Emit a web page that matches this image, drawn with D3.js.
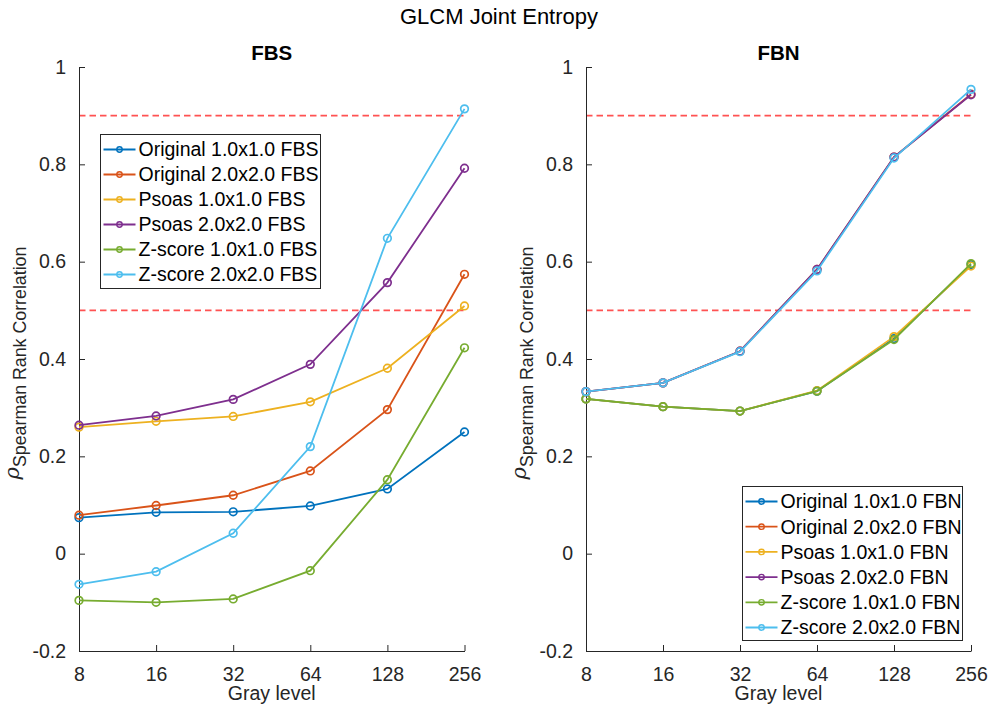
<!DOCTYPE html>
<html>
<head>
<meta charset="utf-8">
<script src="https://cdn.jsdelivr.net/npm/d3@7"></script>
<style>
  html, body { margin: 0; padding: 0; background: #fff; }
  svg { display: block; font-family: "Liberation Sans", Arial, Helvetica, sans-serif; }
</style>
</head>
<body>
<svg id="chart" width="990" height="706"></svg>
<script>
// Gray levels on the x axis (log2 spaced)
const grayLevels = [8, 16, 32, 64, 128, 256];
const yTicks = [-0.2, 0, 0.2, 0.4, 0.6, 0.8, 1];
const yTickLabels = ["-0.2", "0", "0.2", "0.4", "0.6", "0.8", "1"];
const thresholds = [0.9, 0.5];

const seriesNames = ["Original 1.0x1.0", "Original 2.0x2.0", "Psoas 1.0x1.0",
                     "Psoas 2.0x2.0", "Z-score 1.0x1.0", "Z-score 2.0x2.0"];
const seriesColors = ["#0072BD", "#D95319", "#EDB120", "#7E2F8E", "#77AC30", "#4DBEEE"];

// Spearman rank correlation, fixed bin size
const fbsValues = [
  [0.074, 0.085, 0.086, 0.098, 0.133, 0.250],
  [0.079, 0.099, 0.120, 0.170, 0.296, 0.574],
  [0.260, 0.272, 0.282, 0.312, 0.381, 0.509],
  [0.264, 0.283, 0.317, 0.389, 0.557, 0.792],
  [-0.096, -0.100, -0.093, -0.035, 0.152, 0.423],
  [-0.063, -0.037, 0.042, 0.220, 0.648, 0.914]
];

// Spearman rank correlation, fixed bin number
const fbnValues = [
  [0.318, 0.302, 0.293, 0.334, 0.442, 0.594],
  [0.333, 0.351, 0.416, 0.584, 0.815, 0.944],
  [0.318, 0.302, 0.293, 0.335, 0.446, 0.591],
  [0.333, 0.351, 0.416, 0.584, 0.815, 0.943],
  [0.318, 0.302, 0.293, 0.334, 0.440, 0.596],
  [0.333, 0.351, 0.415, 0.581, 0.813, 0.954]
];

const svg = d3.select("#chart");
const axisColor = "#262626";

svg.append("text")
  .attr("x", 499).attr("y", 24)
  .attr("text-anchor", "middle")
  .attr("font-size", 22).attr("fill", "#000")
  .text("GLCM Joint Entropy");

function drawPanel(opts) {
  const { left, right, top, bottom, title, values, suffix, legend } = opts;
  const x = d3.scaleLog().base(2).domain([8, 256]).range([left, right]);
  const y = d3.scaleLinear().domain([-0.2, 1]).range([bottom, top]);
  const g = svg.append("g");

  // threshold lines
  thresholds.forEach(t => {
    g.append("line")
      .attr("x1", x(8)).attr("x2", x(256))
      .attr("y1", y(t)).attr("y2", y(t))
      .attr("stroke", "#FF5252").attr("stroke-width", 1.8)
      .attr("stroke-dasharray", "6.5,4");
  });

  // axes: inward ticks, no box
  const xAxis = d3.axisBottom(x).tickValues(grayLevels)
    .tickFormat(d3.format("d")).tickSizeInner(-6).tickSizeOuter(0).tickPadding(13);
  const yAxis = d3.axisLeft(y).tickValues(yTicks)
    .tickFormat((d, i) => yTickLabels[i]).tickSizeInner(-6).tickSizeOuter(0).tickPadding(13);

  const gx = g.append("g").attr("transform", `translate(0,${bottom})`).call(xAxis);
  const gy = g.append("g").attr("transform", `translate(${left},0)`).call(yAxis);
  [gx, gy].forEach(a => {
    a.select(".domain").attr("stroke", axisColor).attr("stroke-width", 1);
    a.selectAll(".tick line").attr("stroke", axisColor).attr("stroke-width", 1);
    a.selectAll(".tick text").attr("fill", axisColor).attr("font-size", 19.5)
      .attr("font-family", "Liberation Sans, Arial, sans-serif");
  });
  gx.selectAll(".tick text").attr("dy", "0.85em");

  // series
  const line = d3.line().x((d, i) => x(grayLevels[i])).y(d => y(d));
  values.forEach((vals, si) => {
    g.append("path").datum(vals)
      .attr("d", line).attr("fill", "none")
      .attr("stroke", seriesColors[si]).attr("stroke-width", 1.8);
    g.selectAll(null).data(vals).enter().append("circle")
      .attr("cx", (d, i) => x(grayLevels[i])).attr("cy", d => y(d))
      .attr("r", 3.8).attr("fill", "none")
      .attr("stroke", seriesColors[si]).attr("stroke-width", 1.7);
  });

  // subplot title
  g.append("text")
    .attr("x", (left + right) / 2).attr("y", 60)
    .attr("text-anchor", "middle").attr("font-weight", "bold")
    .attr("font-size", 20.5).attr("fill", "#000")
    .text(title);

  // x label
  g.append("text")
    .attr("x", (left + right) / 2).attr("y", 700)
    .attr("text-anchor", "middle").attr("font-size", 19.5).attr("fill", axisColor)
    .text("Gray level");

  // y label with subscript
  const yl = g.append("text")
    .attr("transform", `translate(${left - 60},${(top + bottom) / 2 + 4}) rotate(-90)`)
    .attr("text-anchor", "middle").attr("fill", axisColor);
  yl.append("tspan").attr("font-style", "italic").attr("font-size", 21)
    .attr("font-family", "DejaVu Serif, serif").text("ρ");
  yl.append("tspan").attr("font-size", 17.8).attr("dy", 7).text("Spearman Rank Correlation");

  // legend
  const lg = g.append("g").attr("transform", `translate(${legend.x},${legend.y})`);
  lg.append("rect")
    .attr("width", legend.w).attr("height", legend.h)
    .attr("fill", "#fff").attr("stroke", axisColor).attr("stroke-width", 1);
  seriesNames.forEach((name, i) => {
    const ry = 15 + i * legend.step;
    lg.append("line").attr("x1", 3).attr("x2", 35).attr("y1", ry).attr("y2", ry)
      .attr("stroke", seriesColors[i]).attr("stroke-width", 1.8);
    lg.append("circle").attr("cx", 19).attr("cy", ry).attr("r", 2.7)
      .attr("fill", "none").attr("stroke", seriesColors[i]).attr("stroke-width", 1.4);
    lg.append("text").attr("x", 38).attr("y", ry).attr("dy", "0.35em")
      .attr("font-size", 19.5).attr("fill", "#000")
      .text(`${name} ${suffix}`);
  });
}

drawPanel({ left: 79, right: 464.5, top: 67, bottom: 651, title: "FBS",
  values: fbsValues, suffix: "FBS",
  legend: { x: 100.5, y: 134.5, w: 220, h: 154, step: 25 } });

drawPanel({ left: 586, right: 971, top: 67, bottom: 651, title: "FBN",
  values: fbnValues, suffix: "FBN",
  legend: { x: 742.5, y: 486.5, w: 220, h: 154, step: 25.2 } });
</script>
</body>
</html>
